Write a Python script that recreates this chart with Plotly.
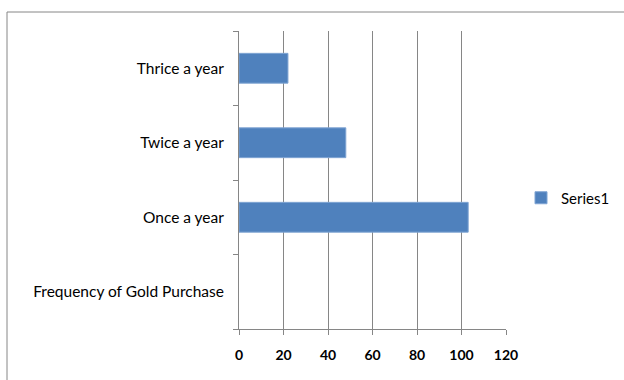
import plotly.graph_objects as go

categories = ["Frequency of Gold Purchase", "Once a year", "Twice a year", "Thrice a year"]
values = [None, 103, 48, 22]
series_name = "Series1"
x_ticks = [0, 20, 40, 60, 80, 100, 120]

fig = go.Figure()
fig.add_trace(go.Bar(
    y=categories, x=values, orientation="h", name=series_name,
    marker=dict(color="#4F81BD", line=dict(color="#7FA4D3", width=1)),
    width=0.4, showlegend=True,
))

L, R, T, B = 239, 506, 31, 329
W, H = R - L, B - T

fig.update_layout(
    width=624, height=380,
    margin=dict(l=L, r=624 - R, t=T, b=380 - B, autoexpand=False),
    paper_bgcolor="white", plot_bgcolor="white",
    font=dict(family="Lato, Liberation Sans, sans-serif", size=15.5, color="#000000"),
    xaxis=dict(
        range=[0, 120], tickvals=x_ticks, showgrid=True, gridcolor="#868686", gridwidth=1,
        showline=True, linecolor="#868686", linewidth=1,
        ticks="outside", ticklen=5, tickcolor="#868686", ticklabelstandoff=8,
        tickfont=dict(size=14, family="Lato", weight="bold"), zeroline=False,
    ),
    yaxis=dict(
        categoryorder="array", categoryarray=categories, range=[-0.5, 3.5],
        showline=True, linecolor="#868686", linewidth=1,
        ticks="outside", ticklen=5, tickcolor="#868686", tickson="boundaries",
        showgrid=False, tickfont=dict(size=15.5), ticklabelstandoff=11,
    ),
    legend=dict(x=(521 - L) / W, xanchor="left", y=(B - 198) / H, yanchor="middle",
                font=dict(size=15), bgcolor="rgba(0,0,0,0)", itemwidth=30),
    shapes=[dict(type="rect", xref="paper", yref="paper",
                 x0=(7 - L) / W, x1=(640 - L) / W, y0=(B - 400) / H, y1=(B - 12) / H,
                 line=dict(color="#868686", width=1), fillcolor="rgba(0,0,0,0)", layer="below")],
)

fig.write_html("out.html")
